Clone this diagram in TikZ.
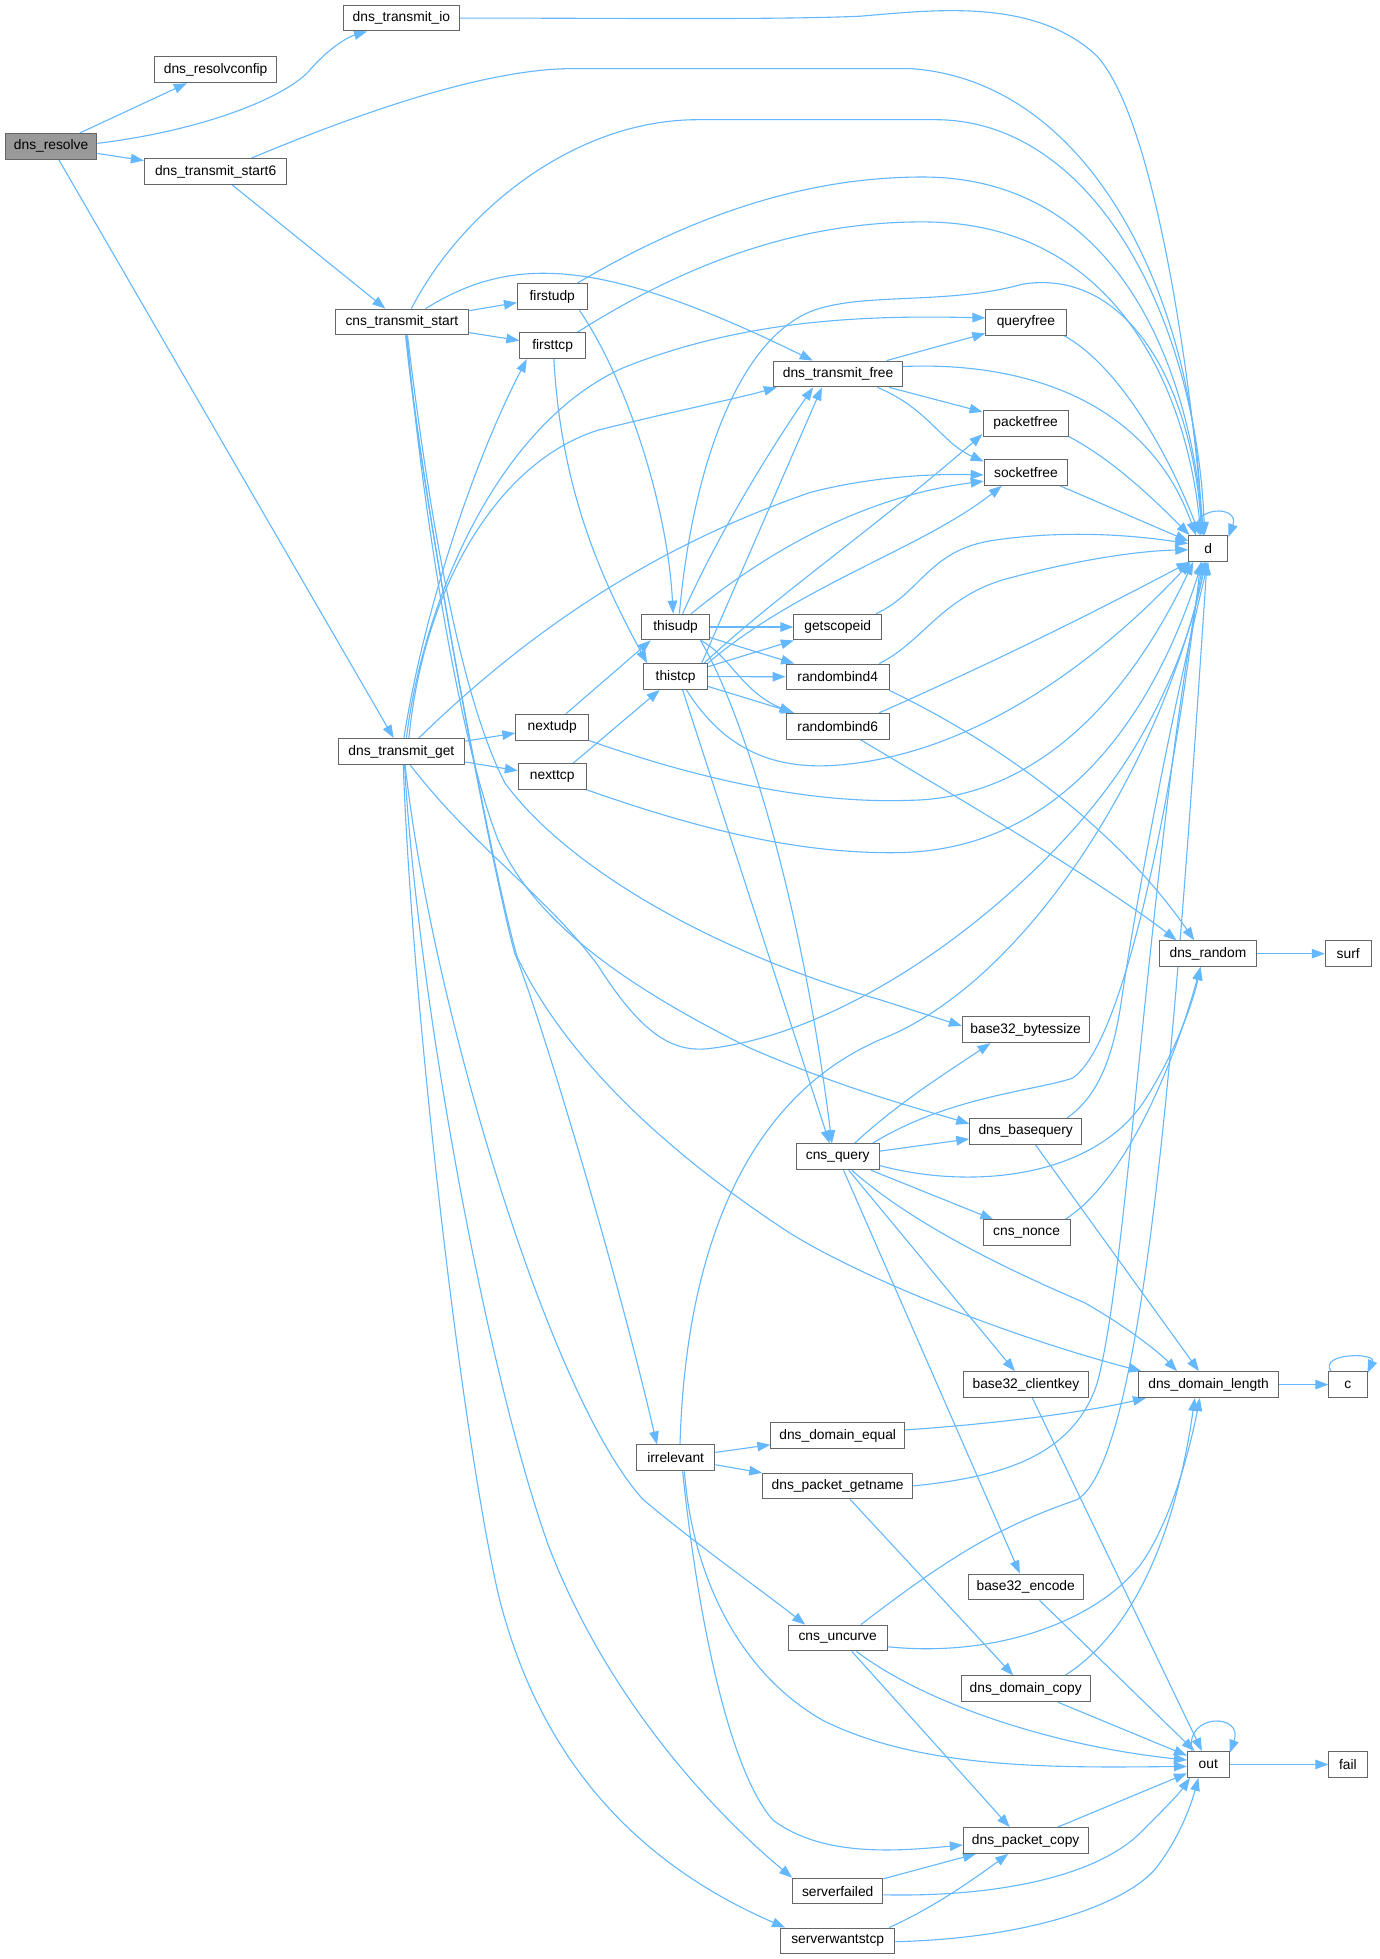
\documentclass[tikz,border=0pt]{standalone}
\usepackage{fontspec}
\setmainfont{Liberation Sans}
\usetikzlibrary{arrows.meta,calc}
\definecolor{edgec}{HTML}{63B8FF}
\definecolor{bord}{HTML}{666666}
\definecolor{grayf}{HTML}{999999}
\pgfdeclarelayer{bg}
\pgfsetlayers{bg,main}
\begin{document}
\begin{tikzpicture}[x=1.2466pt,y=-1.2466pt,
  box/.style={draw=bord,line width=1pt,fill=white,minimum height=25.8pt,inner sep=0pt,font=\fontsize{13.8}{16}\selectfont},
  bw/.style={minimum width=#1*1.2466pt},
  lnk/.style={draw=edgec,line width=1.1pt,-{Triangle[length=13pt,width=9.5pt]}}]
\useasboundingbox (0,0) rectangle (1107,1571.5);
% ---------- nodes ----------
\node[box,bw=73.5,fill=grayf] (res) at (41,117.4) {dns\_resolve};
\node[box,bw=98] (rcf) at (173,56) {dns\_resolvconfip};
\node[box,bw=93.6] (tio) at (322,14.5) {dns\_transmit\_io};
\node[box,bw=114.4] (ts6) at (173,137.6) {dns\_transmit\_start6};
\node[box,bw=107.3] (cts) at (322.4,258.3) {cns\_transmit\_start};
\node[box,bw=55.8] (fud) at (443,238) {firstudp};
\node[box,bw=52.6] (ftc) at (443.3,277.4) {firsttcp};
\node[box,bw=103.4] (tfr) at (672.3,300) {dns\_transmit\_free};
\node[box,bw=64.3] (qf) at (823,258.5) {queryfree};
\node[box,bw=68.5] (pf) at (822.8,339.5) {packetfree};
\node[box,bw=67] (sf) at (823,379) {socketfree};
\node[box,bw=31.4] (d) at (969.3,440) {d};
\node[box,bw=54.2] (tud) at (542,503) {thisudp};
\node[box,bw=51] (ttc) at (542,542.7) {thistcp};
\node[box,bw=70.3] (gsi) at (672,503) {getscopeid};
\node[box,bw=82.8] (rb4) at (672,543) {randombind4};
\node[box,bw=82.8] (rb6) at (672,582.5) {randombind6};
\node[box,bw=101.7] (tg) at (322,602.8) {dns\_transmit\_get};
\node[box,bw=58.5] (nud) at (443,583.3) {nextudp};
\node[box,bw=54.4] (ntc) at (443,622.8) {nexttcp};
\node[box,bw=77.6] (rnd) at (969,765) {dns\_random};
\node[box,bw=36.7] (surf) at (1081.5,765) {surf};
\node[box,bw=101.6] (b32s) at (822.8,826) {base32\_bytessize};
\node[box,bw=89.7] (bq) at (822.8,907.5) {dns\_basequery};
\node[box,bw=66.7] (cq) at (672,928) {cns\_query};
\node[box,bw=69.8] (cn) at (823.5,989) {cns\_nonce};
\node[box,bw=100.6] (b32k) at (823,1110.7) {base32\_clientkey};
\node[box,bw=111.7] (dl) at (969.5,1110.7) {dns\_domain\_length};
\node[box,bw=30.6] (c) at (1081.3,1110.7) {c};
\node[box,bw=107.2] (de) at (672,1151.5) {dns\_domain\_equal};
\node[box,bw=63] (irr) at (542,1169.5) {irrelevant};
\node[box,bw=120.3] (pg) at (672,1192) {dns\_packet\_getname};
\node[box,bw=92.5] (b32e) at (822.8,1273) {base32\_encode};
\node[box,bw=79.3] (cu) at (672,1314) {cns\_uncurve};
\node[box,bw=103.6] (dc) at (822.8,1354.8) {dns\_domain\_copy};
\node[box,bw=33.5] (out) at (969.3,1415.4) {out};
\node[box,bw=30.6] (fail) at (1081.3,1415.4) {fail};
\node[box,bw=100] (pc) at (822.8,1476.4) {dns\_packet\_copy};
\node[box,bw=72.3] (sfd) at (672,1517) {serverfailed};
\node[box,bw=91.7] (swt) at (672,1557) {serverwantstcp};
% ---------- edges ----------
\begin{pgfonlayer}{bg}
\fill[white] (0,0) rectangle (1107,1571.5);
% dns_resolve
\draw[lnk] (res) -- (rcf);
\draw[lnk] ($(res.east)+(0,-2.4)$) .. controls (160,105) and (225,80) .. (247,58) .. controls (262,40) and (278,30) .. ($(tio.south west)+(19.6,0)$);
\draw[lnk] (res) -- (ts6);
\draw[lnk] (res) -- (tg);
% dns_transmit_io
\draw[lnk] (tio.east) .. controls (500,14.5) and (620,16) .. (690,13) .. controls (750,8) and (830,-2) .. (880,45) .. controls (930,100) and (958,330) .. ($(d.north)+(-4,0)$);
% dns_transmit_start6
\draw[lnk] ($(ts6.north east)+(-29,0)$) .. controls (290,90) and (390,55) .. (460,55) -- (730,55) .. controls (880,65) and (962,250) .. ($(d.north)+(-6,0)$);
\draw[lnk] (ts6) -- (cts);
% cns_transmit_start
\draw[lnk] ($(cts.north)+(7.6,0)$) .. controls (370,170) and (460,96) .. (560,96) -- (750,96) .. controls (880,96) and (960,260) .. ($(d.north)+(-3,0)$);
\draw[lnk] (cts) -- (fud);
\draw[lnk] (cts) -- (ftc);
\draw[lnk] ($(cts.north)+(19,0)$) .. controls (410,205) and (480,205) .. ($(tfr.north)+(-20.3,0)$);
\draw[lnk] ($(cts.south)+(3,0)$) .. controls (338,400) and (395,700) .. (413,765) .. controls (428,800) and (490,1000) .. ($(irr.north)+(-15,0)$);
\draw[lnk] ($(cts.south)+(3.5,0)$) .. controls (338,400) and (395,700) .. (415,768) .. controls (450,840) and (520,915) .. (634,989.4) .. controls (700,1030) and (820,1075) .. ($(dl.north west)+(2.5,0)$);
\draw[lnk] ($(cts.south)+(4,0)$) .. controls (340,420) and (370,600) .. (400,675) .. controls (430,740) and (500,790) .. (600,840) .. controls (680,875) and (740,890) .. ($(bq.west)+(0,-6)$);
\draw[lnk] ($(cts.south)+(4.5,0)$) .. controls (345,420) and (370,560) .. (405,628) .. controls (450,690) and (560,760) .. (706,802) -- ($(b32s.west)+(0,-3)$);
% firstudp / firsttcp
\draw[lnk] ($(fud.north east)+(-8.4,0)$) .. controls (560,170) and (650,142) .. (740,142) .. controls (900,142) and (955,300) .. ($(d.north)+(-4,0)$);
\draw[lnk] ($(fud.south east)+(-6.6,0)$) .. controls (500,300) and (535,400) .. ($(tud.north)+(-2,0)$);
\draw[lnk] ($(ftc.north east)+(-7,0)$) .. controls (560,205) and (650,178) .. (740,178) .. controls (900,178) and (953,320) .. ($(d.north)+(-6,0)$);
\draw[lnk] ($(ftc.south)+(1,0)$) .. controls (450,390) and (480,460) .. ($(ttc.north west)+(3,0)$);
% dns_transmit_free
\draw[lnk] (tfr) -- (qf);
\draw[lnk] (tfr) -- (pf);
\draw[lnk] ($(tfr.south east)+(-20.5,0)$) .. controls (745,328) and (755,355) .. ($(sf.north west)+(0,2)$);
\draw[lnk] ($(tfr.east)+(0,-6)$) .. controls (820,290) and (920,320) .. ($(d.north)+(-10,0)$);
% free functions
\draw[lnk] ($(qf.south east)+(-2,0)$) .. controls (900,295) and (940,370) .. ($(d.north)+(-7,0)$);
\draw[lnk] (pf.south east) .. controls (895,370) and (930,405) .. ($(d.north west)+(1,0)$);
\draw[lnk] ($(sf.south east)+(-6.5,0)$) -- ($(d.west)+(0,-6)$);
\draw[lnk] ($(d.north west)+(6,0)$) .. controls (955,405) and (995,405) .. ($(d.north east)+(0,1.5)$);
% thisudp
\draw[lnk] (tud) -- (gsi);
\draw[lnk] (tud) -- (rb4);
\draw[lnk] ($(tud.south east)+(-7.6,0)$) .. controls (585,525) and (595,555) .. ($(rb6.north west)+(5.5,0)$);
\draw[lnk] ($(tud.south east)+(-7.6,0)$) .. controls (590,560) and (640,700) .. ($(cq.north)+(-4.6,0)$);
\draw[lnk] ($(tud.north)+(3,0)$) .. controls (555,380) and (590,275) .. (650,250) .. controls (690,234) and (760,245) .. (820,228) .. controls (900,215) and (955,300) .. ($(d.north)+(-5,0)$);
\draw[lnk] ($(tud.north)+(5.6,0)$) .. controls (580,420) and (625,350) .. ($(tfr.south)+(-20,0)$);
\draw[lnk] ($(tud.north east)+(-15,0)$) .. controls (600,455) and (680,400) .. ($(sf.west)+(0,7)$);
% thistcp
\draw[lnk] (ttc) -- (gsi);
\draw[lnk] (ttc) -- (rb4);
\draw[lnk] (ttc) -- (rb6);
\draw[lnk] ($(ttc.south)+(5.6,0)$) -- ($(cq.north)+(-6.5,0)$);
\draw[lnk] ($(ttc.south)+(8.7,0)$) .. controls (580,600) and (620,620) .. (680,613) .. controls (800,600) and (900,510) .. ($(d.south west)+(2,0)$);
\draw[lnk] ($(ttc.north east)+(-5,0)$) -- ($(tfr.south)+(-13,0)$);
\draw[lnk] (ttc.north east) .. controls (640,470) and (740,440) .. ($(sf.south west)+(14.5,0)$);
\draw[lnk] ($(ttc.north east)+(-3,0)$) .. controls (620,480) and (700,425) .. ($(pf.south west)+(0,-2)$);
% nextudp / nexttcp
\draw[lnk] ($(nud.north)+(11,0)$) -- ($(tud.south)+(-20,0)$);
\draw[lnk] ($(ntc.north)+(17,0)$) -- ($(ttc.south)+(-12.8,0)$);
\draw[lnk] (nud.south east) .. controls (560,625) and (650,645) .. (730,642) .. controls (850,640) and (920,530) .. ($(d.south west)+(4,0)$);
\draw[lnk] (ntc.south east) .. controls (560,665) and (640,685) .. (720,684) .. controls (860,682) and (930,560) .. ($(d.south)+(-5,0)$);
% getscopeid / randombind
\draw[lnk] ($(gsi.north east)+(-4.7,0)$) .. controls (740,475) and (745,440) .. (800,433) .. controls (850,426) and (900,428) .. ($(d.west)+(0,-4)$);
\draw[lnk] ($(rb4.north east)+(-8.4,0)$) .. controls (740,515) and (755,480) .. (805,465) .. controls (860,450) and (910,442) .. ($(d.west)+(0,1)$);
\draw[lnk] ($(rb6.north east)+(-8.4,0)$) .. controls (800,530) and (880,490) .. ($(d.south west)+(1,0)$);
\draw[lnk] ($(rb4.south east)+(-0.6,0)$) .. controls (810,600) and (900,670) .. ($(rnd.north)+(-11,0)$);
\draw[lnk] ($(rb6.south)+(18,0)$) .. controls (760,635) and (880,705) .. ($(rnd.north west)+(14,0)$);
\draw[lnk] (rnd) -- (surf);
% dns_transmit_get
\draw[lnk] ($(tg.north)+(2,0)$) .. controls (340,490) and (380,370) .. ($(ftc.south west)+(6,0)$);
\draw[lnk] ($(tg.north)+(4,0)$) .. controls (340,480) and (400,340) .. (500,295) .. controls (600,255) and (700,253) .. ($(qf.west)+(0,-3.5)$);
\draw[lnk] ($(tg.north)+(6,0)$) .. controls (340,470) and (400,370) .. (480,345) .. controls (540,330) and (590,320) .. ($(tfr.south west)+(3,0)$);
\draw[lnk] ($(tg.north)+(14,0)$) .. controls (420,510) and (520,440) .. (650,395) .. controls (700,382) and (750,380) .. ($(sf.west)+(0,2)$);
\draw[lnk] (tg) -- (nud);
\draw[lnk] (tg) -- (ntc);
\draw[lnk] ($(tg.south)+(7,0)$) .. controls (380,680) and (440,720) .. (480,775) .. controls (515,830) and (540,845) .. (570,841) .. controls (700,825) and (850,700) .. (910,600) .. controls (940,550) and (958,500) .. ($(d.south)+(-3,0)$);
\draw[lnk] ($(tg.south)+(1.5,0)$) .. controls (330,800) and (370,1150) .. (400,1280) .. controls (430,1400) and (500,1490) .. ($(swt.north west)+(4,0)$);
\draw[lnk] ($(tg.south)+(2.5,0)$) .. controls (335,800) and (390,1100) .. (440,1240) .. controls (490,1370) and (580,1460) .. (sfd.north west);
\draw[lnk] ($(tg.south)+(3,0)$) .. controls (345,800) and (440,1120) .. (516,1203) .. controls (560,1240) and (610,1275) .. ($(cu.north west)+(14,0)$);
% irrelevant
\draw[lnk] ($(irr.north)+(3.5,0)$) .. controls (550,1000) and (600,880) .. (706,834) .. controls (820,790) and (930,620) .. ($(d.south)+(-2,0)$);
\draw[lnk] (irr) -- (de);
\draw[lnk] (irr) -- (pg);
\draw[lnk] ($(irr.south)+(5.6,0)$) .. controls (560,1300) and (585,1420) .. (620,1460) .. controls (660,1490) and (720,1485) .. ($(pc.west)+(0,3.6)$);
\draw[lnk] ($(irr.south)+(7,0)$) .. controls (555,1260) and (590,1340) .. (660,1380) .. controls (740,1420) and (850,1418) .. ($(out.west)+(0,1.6)$);
% dns_packet_getname
\draw[lnk] (pg.east) .. controls (800,1185) and (860,1170) .. (880,1110) .. controls (905,1020) and (920,700) .. ($(d.south)+(-4,0)$);
\draw[lnk] (pg) -- (dc);
% cns_uncurve
\draw[lnk] ($(cu.north east)+(-21.5,0)$) .. controls (760,1250) and (800,1225) .. (864,1203) .. controls (920,1170) and (945,800) .. ($(d.south)+(-1,0)$);
\draw[lnk] ($(cu.east)+(0,7)$) .. controls (800,1330) and (880,1300) .. (915,1255) .. controls (940,1220) and (955,1160) .. ($(dl.south)+(-7,0)$);
\draw[lnk] ($(cu.south east)+(-25,0)$) .. controls (740,1365) and (840,1400) .. ($(out.west)+(0,-3.5)$);
\draw[lnk] ($(cu.south)+(11.3,0)$) -- ($(pc.north)+(-12.8,0)$);
% dns_domain_copy, base32
\draw[lnk] ($(dc.north east)+(-20.8,0)$) .. controls (900,1315) and (940,1250) .. ($(dl.south)+(-11,0)$);
\draw[lnk] (dc) -- (out);
\draw[lnk] (b32e) -- (out);
\draw[lnk] (b32k) -- (out);
% cns_query
\draw[lnk] ($(cq.north east)+(-20.35,0)$) .. controls (720,885) and (760,860) .. ($(b32s.south west)+(23,0)$);
\draw[lnk] ($(cq.north east)+(-6,0)$) .. controls (760,880) and (830,875) .. (860,865) .. controls (900,840) and (940,650) .. ($(d.south)+(-6,0)$);
\draw[lnk] (cq) -- (bq);
\draw[lnk] ($(cq.east)+(0,7)$) .. controls (780,955) and (880,945) .. (920,880) .. controls (945,840) and (958,800) .. ($(rnd.south)+(-6,0)$);
\draw[lnk] (cq) -- (cn);
\draw[lnk] ($(cq.south)+(11.3,0)$) .. controls (730,980) and (800,1015) .. (870,1045) .. controls (905,1065) and (930,1085) .. ($(dl.north)+(-25.3,0)$);
\draw[lnk] (cq) -- (b32k);
\draw[lnk] (cq) -- (b32e);
% dns_basequery, cns_nonce, dns_domain_equal
\draw[lnk] ($(bq.north east)+(-12,0)$) .. controls (880,880) and (893,850) .. (900,800) .. controls (915,700) and (945,550) .. (d.south);
\draw[lnk] (bq) -- (dl);
\draw[lnk] ($(cn.north east)+(-4.6,0)$) .. controls (900,950) and (940,860) .. ($(rnd.south)+(-6,0)$);
\draw[lnk] ($(de.east)+(0,-4.4)$) .. controls (800,1142) and (870,1133) .. ($(dl.south west)+(6,0)$);
% dns_domain_length, c
\draw[lnk] (dl) -- (c);
\draw[lnk] ($(c.north west)+(2,0)$) .. controls (1058,1085) and (1104,1085) .. ($(c.north east)+(0,1.5)$);
% out
\draw[lnk] (out) -- (fail);
\draw[lnk] ($(out.north west)+(4,0)$) .. controls (950,1374) and (998,1374) .. ($(out.north east)+(0,1.5)$);
\draw[lnk] (pc) -- (out);
% serverfailed / serverwantstcp
\draw[lnk] (sfd) -- (pc);
\draw[lnk] ($(sfd.east)+(0,3)$) .. controls (800,1522) and (880,1505) .. (915,1470) .. controls (930,1455) and (945,1440) .. ($(out.south west)+(2.5,0)$);
\draw[lnk] ($(swt.north east)+(-5,0)$) .. controls (745,1532) and (775,1512) .. ($(pc.south)+(-14,0)$);
\draw[lnk] ($(swt.east)+(0,0.6)$) .. controls (830,1555) and (910,1525) .. (930,1495) .. controls (945,1475) and (955,1450) .. ($(out.south)+(-8,0)$);
\end{pgfonlayer}
\end{tikzpicture}
\end{document}
